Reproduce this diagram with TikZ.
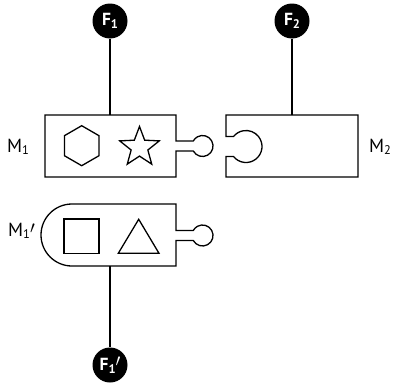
\documentclass[tikz,border=0pt]{standalone}
\usepackage{fontspec}
\setmainfont{PT Sans}
% lowered index: size, drop, digit
\newcommand\lowidx[3]{\raisebox{-#2}{\fontsize{#1}{#1}\selectfont #3}}
\begin{document}
\begin{tikzpicture}[x=1pt,y=-1pt,line join=miter,
  part/.style={draw=black,line width=1.3pt},
  fnode/.style={circle,fill=black,text=white,minimum size=35pt,inner sep=0pt,
    font=\fontsize{17.5}{17.5}\selectfont\bfseries},
  label/.style={anchor=base west,inner sep=0pt,font=\fontsize{19}{19}\selectfont},
  link/.style={draw=black,line width=1.3pt}]
\useasboundingbox (0,0) rectangle (394,388);

% module M1: box with a knob on its right side
\draw[part] (176,141) -- (176,115) -- (45,115) -- (45,177) -- (176,177) -- (176,151)
  -- (193.3,151) arc[start angle=151.5,end angle=-151.5,radius=10.5] -- cycle;
% module M2: box with a socket on its left side
\draw[part] (226,136.5) -- (226,115) -- (358,115) -- (358,177) -- (226,177) -- (226,156.5)
  -- (233.5,156.5) arc[start angle=141.34,end angle=-141.34,radius=16] -- cycle;
% module M1': rounded left end, knob on the right
\draw[part] (176,230.5) -- (176,204) -- (72,204) arc[start angle=-90,end angle=-270,radius=31]
  -- (176,266) -- (176,240.5)
  -- (193.3,240.5) arc[start angle=151.5,end angle=-151.5,radius=10.5] -- cycle;

% symbols inside the modules
\draw[part] (81.7,125.7) -- (64.4,135.7) -- (64.4,155.7) -- (81.7,165.7) -- (99,155.7) -- (99,135.7) -- cycle;
\draw[part,shift={(139.5,147.3)}] (-90:20.8) -- (-54:8.8) -- (-18:20.8) -- (18:8.8) -- (54:20.8)
  -- (90:8.8) -- (126:20.8) -- (162:8.8) -- (198:20.8) -- (234:8.8) -- cycle;
\draw[part] (64,219) rectangle (99,253.3);
\draw[part] (118.3,253.3) -- (159,253.3) -- (138.7,219.3) -- cycle;

% attachment points on the modules
\coordinate (M1top) at (110,115);
\coordinate (M2top) at (292,115);
\coordinate (M1pbot) at (110,266);

% function nodes
\node[fnode] (F1) at (110,21) {F\lowidx{12.5}{3pt}{1}};
\node[fnode] (F2) at (292,21) {F\lowidx{12.5}{3pt}{2}};
\node[fnode] (F1p) at (110,365) {F\lowidx{12.5}{3pt}{1}\raisebox{4pt}{$\prime$}};

% module labels
\node[label] (lM1) at (7,152.5) {M\lowidx{12.5}{2pt}{1}};
\node[label] (lM2) at (369,152.5) {M\lowidx{12.5}{2pt}{2}};
\node[label] (lM1p) at (8,236.7) {M\lowidx{12.5}{2pt}{1}\raisebox{3pt}{$\prime$}};

% connectors
\draw[link] (F1) -- (M1top);
\draw[link] (F2) -- (M2top);
\draw[link] (M1pbot) -- (F1p);
\end{tikzpicture}
\end{document}
